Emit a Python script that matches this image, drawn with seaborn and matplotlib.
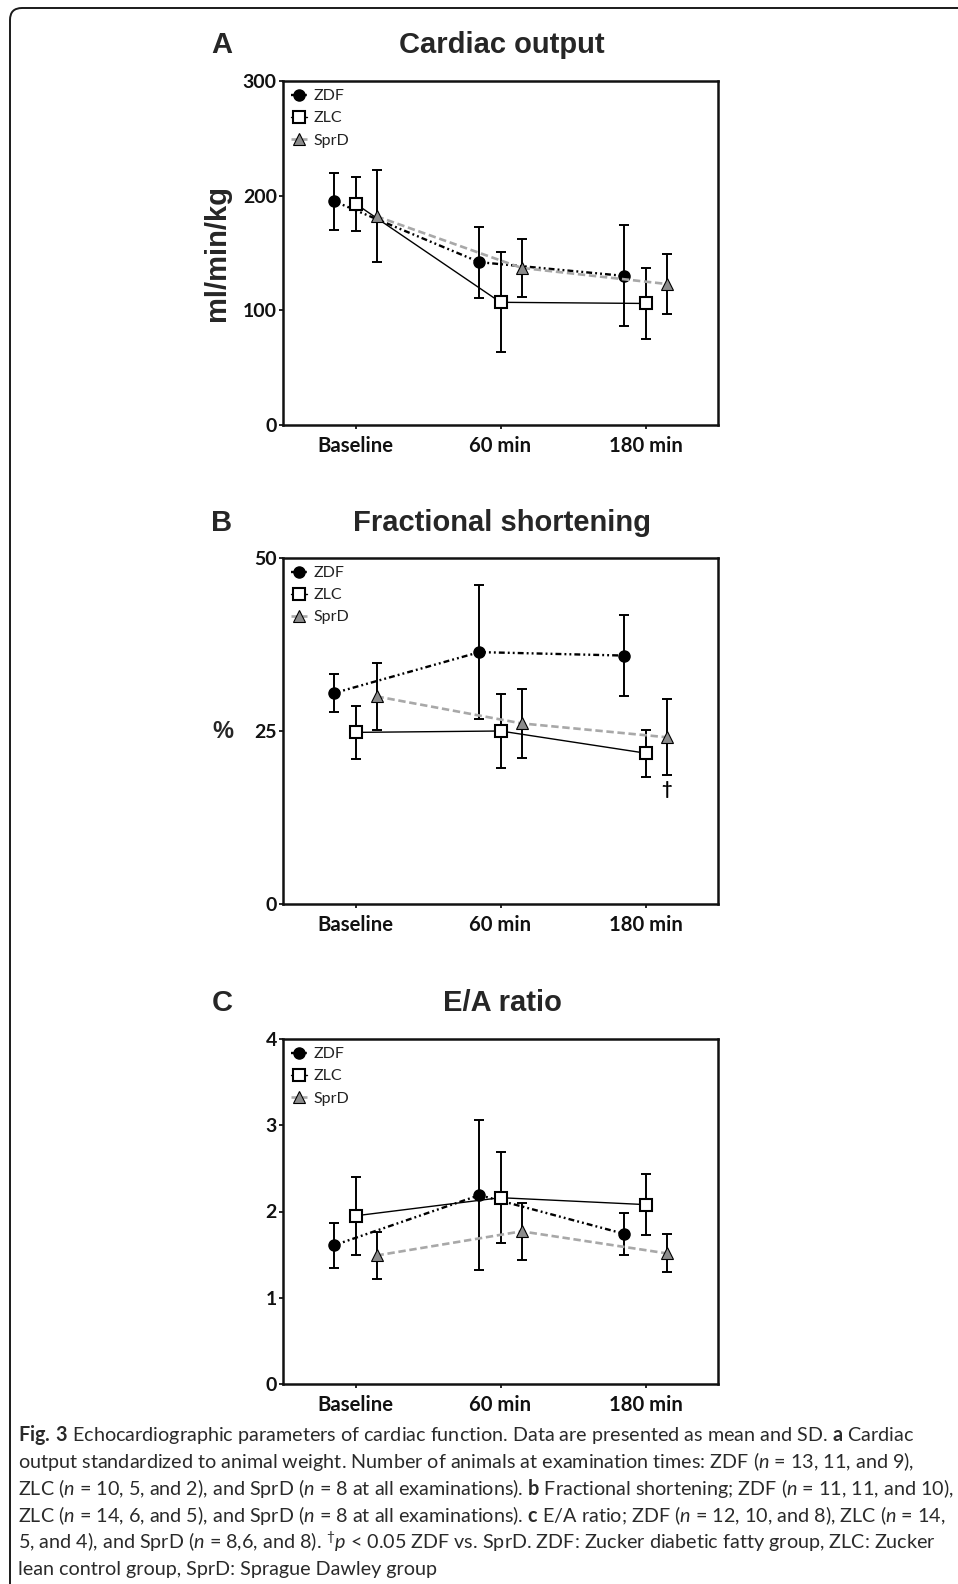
import numpy as np
import pandas as pd
import matplotlib
matplotlib.use("Agg")
import matplotlib.pyplot as plt
import matplotlib.patches as mpatches
import seaborn as sns

# Time points and groups
times = ["Baseline", "60 min", "180 min"]
groups = ["ZDF", "ZLC", "SprD"]

# A: cardiac output (ml/min/kg), mean and SD
co_zdf = [195, 142, 130]
co_zdf_sd = [25, 31, 44]
co_zlc = [193, 107, 106]
co_zlc_sd = [23.5, 43.5, 31]
co_sprd = [182, 137, 123]
co_sprd_sd = [40, 25.5, 26]

# B: fractional shortening (%), mean and SD
fs_zdf = [30.5, 36.4, 35.9]
fs_zdf_sd = [2.8, 9.7, 5.8]
fs_zlc = [24.8, 25.0, 21.8]
fs_zlc_sd = [3.8, 5.3, 3.4]
fs_sprd = [30.0, 26.1, 24.1]
fs_sprd_sd = [4.8, 5.0, 5.5]

# C: E/A ratio, mean and SD
ea_zdf = [1.61, 2.19, 1.74]
ea_zdf_sd = [0.26, 0.87, 0.245]
ea_zlc = [1.95, 2.16, 2.08]
ea_zlc_sd = [0.45, 0.53, 0.35]
ea_sprd = [1.49, 1.77, 1.515]
ea_sprd_sd = [0.275, 0.33, 0.22]

co_ticks = [0, 100, 200, 300]
fs_ticks = [0, 25, 50]
ea_ticks = [0, 1, 2, 3, 4]

caption_lines = [
    r"$\mathbf{Fig.\:3}$ Echocardiographic parameters of cardiac function. Data are presented as mean and SD. $\mathbf{a}$ Cardiac",
    r"output standardized to animal weight. Number of animals at examination times: ZDF ($\mathit{n}$ = 13, 11, and 9),",
    r"ZLC ($\mathit{n}$ = 10, 5, and 2), and SprD ($\mathit{n}$ = 8 at all examinations). $\mathbf{b}$ Fractional shortening; ZDF ($\mathit{n}$ = 11, 11, and 10),",
    r"ZLC ($\mathit{n}$ = 14, 6, and 5), and SprD ($\mathit{n}$ = 8 at all examinations). $\mathbf{c}$ E/A ratio; ZDF ($\mathit{n}$ = 12, 10, and 8), ZLC ($\mathit{n}$ = 14,",
    r"5, and 4), and SprD ($\mathit{n}$ = 8,6, and 8). $^{\dagger}\mathit{p}$ < 0.05 ZDF vs. SprD. ZDF: Zucker diabetic fatty group, ZLC: Zucker",
    r"lean control group, SprD: Sprague Dawley group",
]

panels = [
    dict(letter="A", title="Cardiac output", ylabel="ml/min/kg", ticks=co_ticks,
         means={"ZDF": co_zdf, "ZLC": co_zlc, "SprD": co_sprd},
         sds={"ZDF": co_zdf_sd, "ZLC": co_zlc_sd, "SprD": co_sprd_sd}),
    dict(letter="B", title="Fractional shortening", ylabel="%", ticks=fs_ticks,
         means={"ZDF": fs_zdf, "ZLC": fs_zlc, "SprD": fs_sprd},
         sds={"ZDF": fs_zdf_sd, "ZLC": fs_zlc_sd, "SprD": fs_sprd_sd}),
    dict(letter="C", title="E/A ratio", ylabel=None, ticks=ea_ticks,
         means={"ZDF": ea_zdf, "ZLC": ea_zlc, "SprD": ea_sprd},
         sds={"ZDF": ea_zdf_sd, "ZLC": ea_zlc_sd, "SprD": ea_sprd_sd}),
]

sns.set_style("ticks")
plt.rcParams["font.family"] = ["Lato", "DejaVu Sans"]
plt.rcParams["mathtext.fontset"] = "custom"
plt.rcParams["mathtext.rm"] = "Lato"
plt.rcParams["mathtext.it"] = "Lato:italic"
plt.rcParams["mathtext.bf"] = "Lato:bold"

styles = {
    "ZDF": dict(color="black", linestyle=(0, (2.5, 1.3, 0.8, 1.3, 0.8, 1.3)), linewidth=1.7,
                marker="o", markersize=8, markerfacecolor="black",
                markeredgecolor="black", markeredgewidth=1.0),
    "ZLC": dict(color="black", linestyle="-", linewidth=1.0,
                marker="s", markersize=8, markerfacecolor="white",
                markeredgecolor="black", markeredgewidth=1.5),
    "SprD": dict(color="#a8a8a8", linestyle=(0, (2.8, 1.4)), linewidth=1.9,
                 marker="^", markersize=8, markerfacecolor="#8c8c8c",
                 markeredgecolor="black", markeredgewidth=0.8),
}
offsets = {"ZDF": -0.145, "ZLC": 0.0, "SprD": 0.145}

W, H = 958, 1584
fig = plt.figure(figsize=(W / 100, H / 100), dpi=100)

rects = [
    [283 / W, 1 - 425 / H, 435 / W, 344 / H],
    [283 / W, 1 - 904 / H, 435 / W, 346 / H],
    [283 / W, 1 - 1384 / H, 435 / W, 345 / H],
]
header_y = [45, 523, 1003]

for p, rect, hy in zip(panels, rects, header_y):
    ax = fig.add_axes(rect)
    for g in groups:
        d = pd.DataFrame({"pos": np.arange(len(times)) + offsets[g],
                          "value": p["means"][g], "sd": p["sds"][g]})
        sns.lineplot(data=d, x="pos", y="value", ax=ax, errorbar=None,
                     label=g, zorder=3, **styles[g])
        ax.errorbar(d["pos"], d["value"], yerr=d["sd"], fmt="none",
                    ecolor="black", elinewidth=1.4, capsize=3.6, capthick=1.4,
                    zorder=2)
    ax.set_xlim(-0.5, len(times) - 0.5)
    ax.set_ylim(p["ticks"][0], p["ticks"][-1])
    ax.set_xticks(range(len(times)))
    ax.set_xticklabels(times)
    ax.set_yticks(p["ticks"])
    ax.set_xlabel(None)
    ax.set_ylabel(None)
    for s in ax.spines.values():
        s.set_linewidth(1.8)
        s.set_color("#111111")
    ax.tick_params(axis="x", direction="out", length=3, width=1.4, pad=5, labelsize=14.6)
    ax.tick_params(axis="y", direction="out", length=3, width=1.4, pad=1.5, labelsize=14)
    for lbl in ax.get_xticklabels() + ax.get_yticklabels():
        lbl.set_fontweight("bold")
        lbl.set_color("#111111")

    leg = ax.legend(loc="upper left", frameon=False, fontsize=11.5, handlelength=1.0,
                    handletextpad=0.4, labelspacing=0.5, borderaxespad=0.1,
                    borderpad=0.4)
    for t in leg.get_texts():
        t.set_color("#222222")

    fig.text(222 / W, 1 - hy / H, p["letter"], ha="center", va="center",
             fontsize=21, fontweight="bold", family=["Liberation Sans", "DejaVu Sans"])
    fig.text(502 / W, 1 - hy / H, p["title"], ha="center", va="center",
             fontsize=21, fontweight="bold", family=["Liberation Sans", "DejaVu Sans"])
    if p["ylabel"] == "ml/min/kg":
        fig.text(217 / W, rect[1] + rect[3] / 2, p["ylabel"], ha="center", va="center",
                 rotation=90, fontsize=21, fontweight="bold",
                 family=["Liberation Sans", "DejaVu Sans"])
    elif p["ylabel"]:
        fig.text(223 / W, rect[1] + rect[3] / 2, p["ylabel"], ha="center", va="center",
                 fontsize=17, fontweight="bold", family=["Liberation Sans", "DejaVu Sans"])

    if p["letter"] == "B":
        m = p["means"]["SprD"][-1]
        s = p["sds"]["SprD"][-1]
        ax.annotate("\u2020", xy=(len(times) - 1 + offsets["SprD"], m - s),
                    xytext=(0, -4), textcoords="offset points", ha="center", va="top",
                    fontsize=13, fontweight="bold", color="black")

# Caption
cap_base = [1441, 1468, 1495, 1522, 1549, 1575]
for line, yb in zip(caption_lines, cap_base):
    fig.text(18 / W, 1 - yb / H, line, ha="left", va="baseline",
             fontsize=14.2, color="#2a2a2a")

# Outer frame (top and left edges with rounded corner)
frame = mpatches.FancyBboxPatch((0.10, -1.0), 20, (H - 8) / 100 + 1.0,
                                boxstyle="round,pad=0,rounding_size=0.12",
                                transform=fig.dpi_scale_trans, fill=False,
                                edgecolor="#1a1a1a", linewidth=1.4)
fig.add_artist(frame)

fig.savefig("out.png", dpi=100)
